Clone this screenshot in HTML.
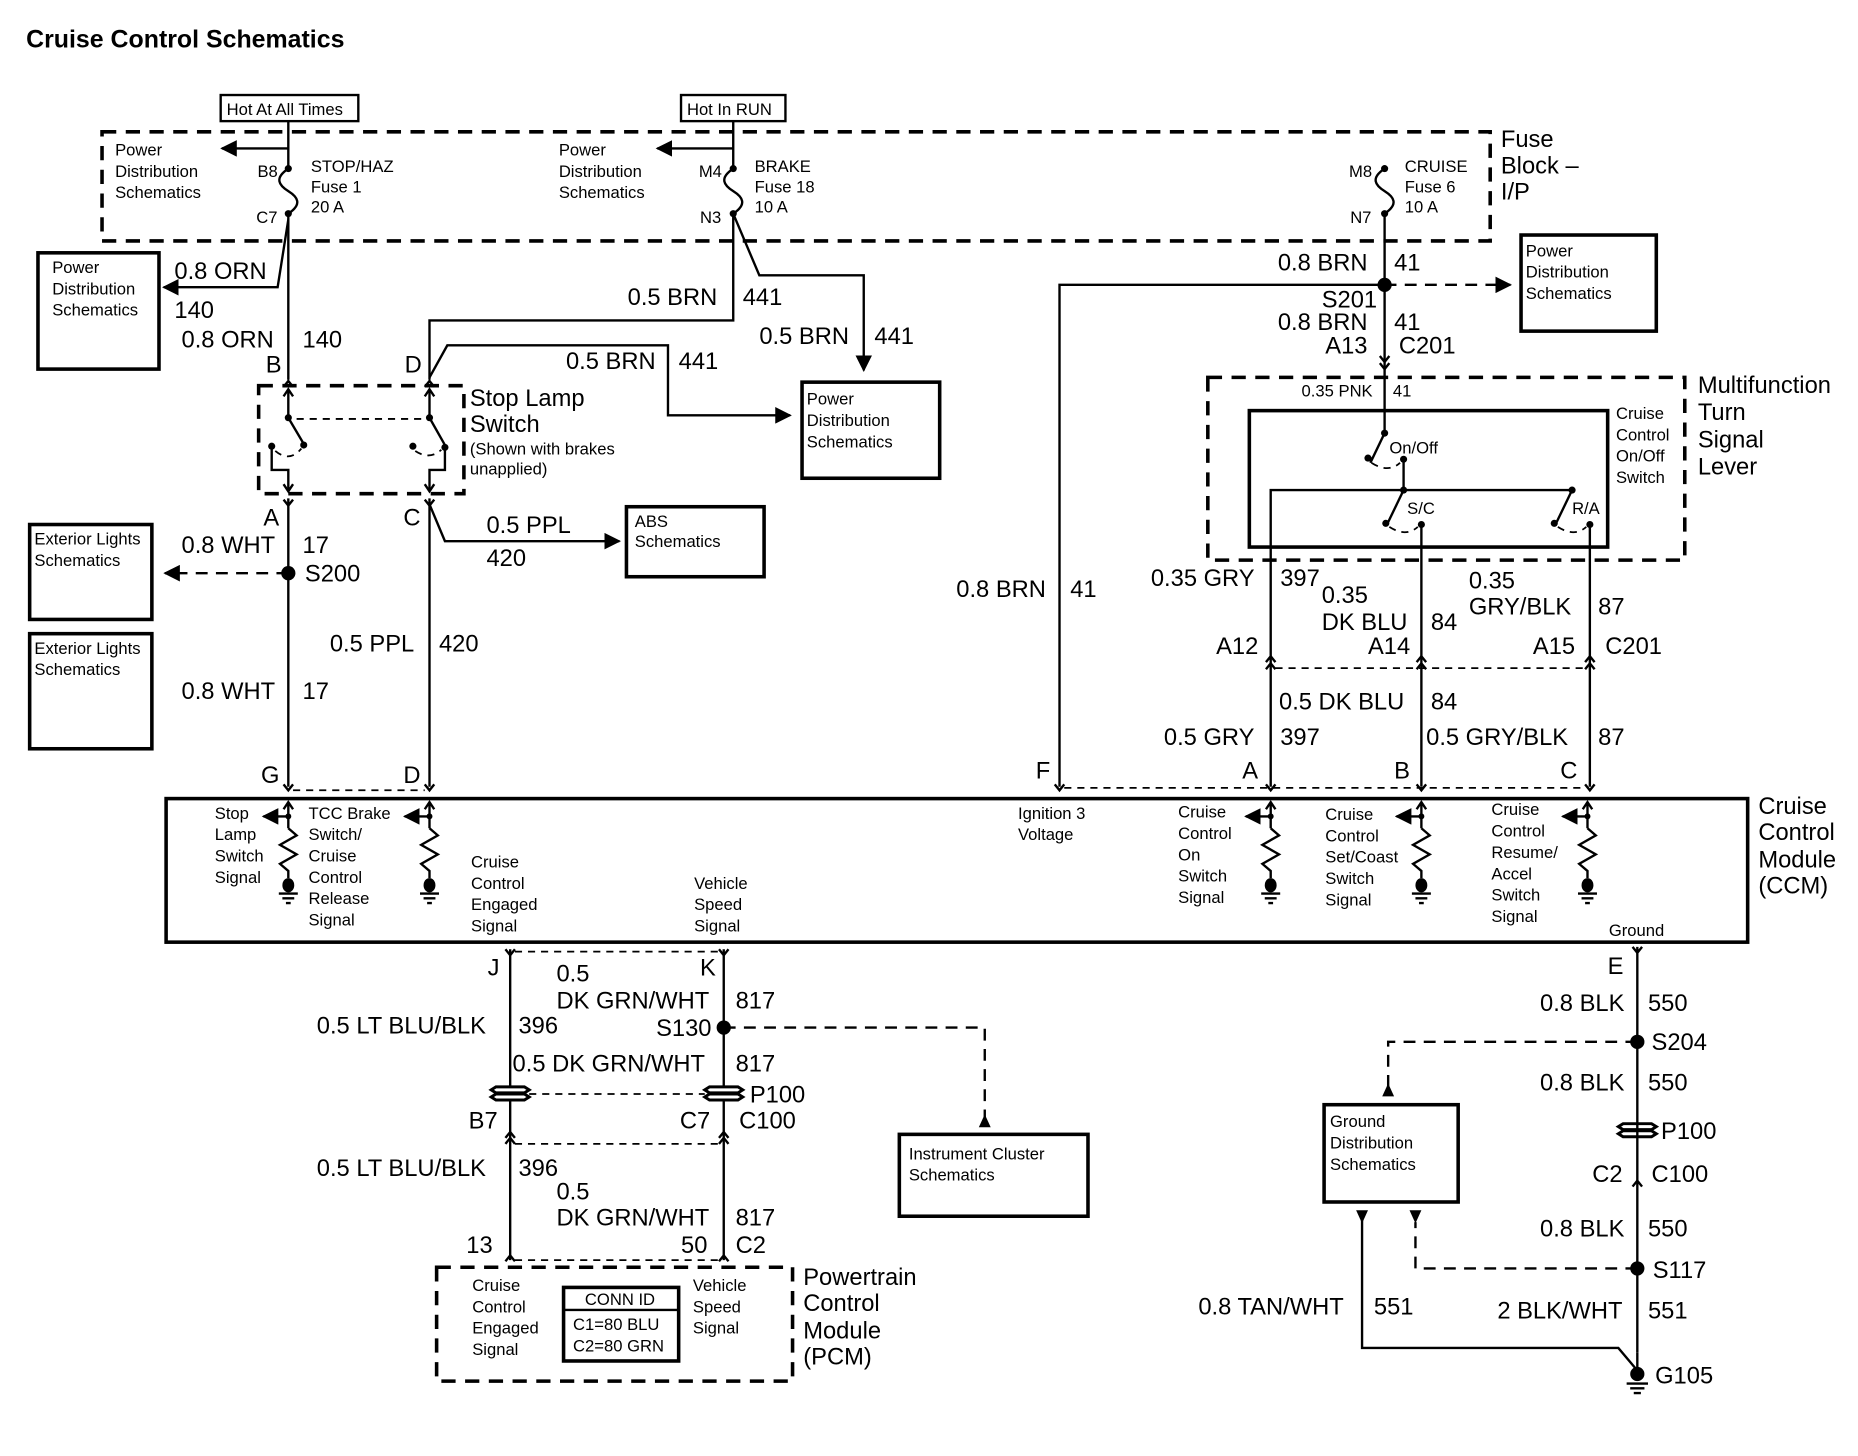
<!DOCTYPE html>
<html><head><meta charset="utf-8"><style>
html,body{margin:0;padding:0;background:#fff}
svg{display:block}
text{font-family:"Liberation Sans",Arial,sans-serif;fill:#000}
.s{font-size:14px}.m{font-size:20px}.t{font-size:21px;font-weight:bold}
.w{stroke:#000;stroke-width:2;fill:none}
.tk{stroke:#000;stroke-width:3;fill:none}
.d{stroke:#000;stroke-width:3;fill:none;stroke-dasharray:12 8}
.dt{stroke:#000;stroke-width:1.5;fill:none;stroke-dasharray:6 5}
</style></head><body>
<svg width="1858" height="1456" viewBox="0 0 1566 1227" xmlns="http://www.w3.org/2000/svg">
<defs>
<marker id="ar" viewBox="0 0 10 10" refX="9" refY="5" markerWidth="7" markerHeight="7" orient="auto"><path d="M0,0 L10,5 L0,10 z" fill="#000"/></marker>
</defs>
<text x="22" y="40" class="t">Cruise Control Schematics</text>

<rect x="186" y="80" width="116" height="22" class="w"/><text x="191" y="97" class="s">Hot At All Times</text>
<rect x="574" y="80" width="88" height="22" class="w"/><text x="579" y="97" class="s">Hot In RUN</text>
<line x1="243" y1="102" x2="243" y2="142" class="w"/>
<line x1="618" y1="102" x2="618" y2="142" class="w"/>
<rect x="86" y="111" width="1170" height="92" class="d"/>
<text x="1265" y="124" class="m">Fuse</text><text x="1265" y="146" class="m">Block –</text><text x="1265" y="168" class="m">I/P</text>
<text x="97" y="131" class="s">Power</text><text x="97" y="149" class="s">Distribution</text><text x="97" y="167" class="s">Schematics</text>
<line x1="243" y1="125" x2="187" y2="125" class="w" marker-end="url(#ar)"/>
<text x="471" y="131" class="s">Power</text><text x="471" y="149" class="s">Distribution</text><text x="471" y="167" class="s">Schematics</text>
<line x1="618" y1="125" x2="554" y2="125" class="w" marker-end="url(#ar)"/>
<g id="fuse">
<path d="M243,142 c-12,8 -8,14 0,19 c8,5 12,11 0,19" class="w"/>
<circle cx="243" cy="142" r="3"/><circle cx="243" cy="180" r="3"/>
</g>
<use href="#fuse" x="375"/>
<use href="#fuse" x="924"/>
<text x="217" y="149" class="s">B8</text><text x="216" y="188" class="s">C7</text>
<text x="262" y="145" class="s">STOP/HAZ</text><text x="262" y="162" class="s">Fuse 1</text><text x="262" y="179" class="s">20 A</text>
<text x="589" y="149" class="s">M4</text><text x="590" y="188" class="s">N3</text>
<text x="636" y="145" class="s">BRAKE</text><text x="636" y="162" class="s">Fuse 18</text><text x="636" y="179" class="s">10 A</text>
<text x="1137" y="149" class="s">M8</text><text x="1138" y="188" class="s">N7</text>
<text x="1184" y="145" class="s">CRUISE</text><text x="1184" y="162" class="s">Fuse 6</text><text x="1184" y="179" class="s">10 A</text>

<rect x="32" y="213" width="102" height="98" class="tk"/>
<text x="44" y="230" class="s">Power</text><text x="44" y="248" class="s">Distribution</text><text x="44" y="266" class="s">Schematics</text>
<polyline points="243,185 234,242 138,242" class="w" marker-end="url(#ar)"/>
<text x="147" y="235" class="m">0.8 ORN</text><text x="147" y="268" class="m">140</text>
<line x1="243" y1="180" x2="243" y2="320" class="w"/>
<text x="153" y="293" class="m">0.8 ORN</text><text x="255" y="293" class="m">140</text>
<text x="224" y="314" class="m">B</text>
<text x="341" y="314" class="m">D</text>
<polyline points="618,180 618,270 362,270 362,320" class="w"/>
<text x="529" y="257" class="m">0.5 BRN</text><text x="626" y="257" class="m">441</text>
<polyline points="618,180 640,232 728,232 728,312" class="w" marker-end="url(#ar)"/>
<text x="640" y="290" class="m">0.5 BRN</text><text x="737" y="290" class="m">441</text>
<polyline points="362,318 377,291 563,291 563,350 666,350" class="w" marker-end="url(#ar)"/>
<text x="477" y="311" class="m">0.5 BRN</text><text x="572" y="311" class="m">441</text>
<rect x="676" y="322" width="116" height="81" class="tk"/>
<text x="680" y="341" class="s">Power</text><text x="680" y="359" class="s">Distribution</text><text x="680" y="377" class="s">Schematics</text>
<path d="M239,326 l4,-5 l4,5 M358,326 l4,-5 l4,5" class="w"/>
<rect x="218" y="325" width="173" height="91" class="d"/>
<text x="396" y="342" class="m">Stop Lamp</text><text x="396" y="364" class="m">Switch</text>
<text x="396" y="383" class="s">(Shown with brakes</text><text x="396" y="400" class="s">unapplied)</text>
<g class="w">
<path d="M243,328 v24 M362,328 v24"/>
<path d="M243,352 L256,374 M362,352 L375,375"/>
<path d="M229,376 v20 h14 v18 M375,376 v20 h-13 v18"/>
</g>
<circle cx="243" cy="352" r="3"/><circle cx="256" cy="375" r="3"/><circle cx="229" cy="376" r="3"/>
<circle cx="362" cy="352" r="3"/><circle cx="375" cy="377" r="3"/><circle cx="348" cy="376" r="3"/>
<path d="M232,380 q12,10 22,-2 M350,380 q12,8 22,-1" class="dt"/>
<line x1="250" y1="353" x2="355" y2="353" class="dt"/>
<path d="M239,334 l4,-6 l4,6 M358,334 l4,-6 l4,6 M239,408 l4,6 l4,-6 M358,408 l4,6 l4,-6" class="w"/>
<path d="M239,421 l4,5 l4,-5 M358,421 l4,5 l4,-5" class="w"/>
<text x="222" y="443" class="m">A</text><text x="340" y="443" class="m">C</text>
<line x1="243" y1="420" x2="243" y2="663" class="w"/>
<circle cx="243" cy="483" r="6"/>
<line x1="243" y1="483" x2="139" y2="483" class="w" stroke-dasharray="10 7" marker-end="url(#ar)"/>
<text x="153" y="466" class="m">0.8 WHT</text><text x="255" y="466" class="m">17</text>
<text x="257" y="490" class="m">S200</text>
<text x="153" y="589" class="m">0.8 WHT</text><text x="255" y="589" class="m">17</text>
<rect x="25" y="442" width="103" height="80" class="tk"/>
<text x="29" y="459" class="s">Exterior Lights</text><text x="29" y="477" class="s">Schematics</text>
<rect x="25" y="534" width="103" height="97" class="tk"/>
<text x="29" y="551" class="s">Exterior Lights</text><text x="29" y="569" class="s">Schematics</text>
<line x1="362" y1="420" x2="362" y2="663" class="w"/>
<polyline points="362,425 375,456 522,456" class="w" marker-end="url(#ar)"/>
<text x="410" y="449" class="m">0.5 PPL</text><text x="410" y="477" class="m">420</text>
<rect x="528" y="427" width="116" height="59" class="tk"/>
<text x="535" y="444" class="s">ABS</text><text x="535" y="461" class="s">Schematics</text>
<text x="278" y="549" class="m">0.5 PPL</text><text x="370" y="549" class="m">420</text>
<text x="220" y="660" class="m">G</text><text x="340" y="660" class="m">D</text>
<path d="M239,661 l4,5 l4,-5 M358,661 l4,5 l4,-5" class="w"/>
<line x1="247" y1="666" x2="358" y2="666" class="dt"/>

<polyline points="893,663 893,240 1167,240" class="w"/>
<line x1="1167" y1="180" x2="1167" y2="365" class="w"/>
<circle cx="1167" cy="240" r="6"/>
<line x1="1167" y1="240" x2="1273" y2="240" class="w" stroke-dasharray="10 7" marker-end="url(#ar)"/>
<rect x="1282" y="198" width="114" height="81" class="tk"/>
<text x="1286" y="216" class="s">Power</text><text x="1286" y="234" class="s">Distribution</text><text x="1286" y="252" class="s">Schematics</text>
<text x="1077" y="228" class="m">0.8 BRN</text><text x="1175" y="228" class="m">41</text>
<text x="1114" y="259" class="m">S201</text>
<text x="1077" y="278" class="m">0.8 BRN</text><text x="1175" y="278" class="m">41</text>
<text x="1117" y="298" class="m">A13</text><text x="1179" y="298" class="m">C201</text>
<path d="M1163,300 l4,5 l4,-5 M1163,306 l4,5 l4,-5" class="w"/>
<text x="806" y="503" class="m">0.8 BRN</text><text x="902" y="503" class="m">41</text>
<rect x="1018" y="318" width="402" height="154" class="d"/>
<rect x="1053" y="346" width="302" height="115" class="tk"/>
<text x="1431" y="331" class="m">Multifunction</text><text x="1431" y="354" class="m">Turn</text><text x="1431" y="377" class="m">Signal</text><text x="1431" y="400" class="m">Lever</text>
<text x="1362" y="353" class="s">Cruise</text><text x="1362" y="371" class="s">Control</text><text x="1362" y="389" class="s">On/Off</text><text x="1362" y="407" class="s">Switch</text>
<text x="1097" y="334" class="s">0.35 PNK</text><text x="1174" y="334" class="s">41</text>
<g class="w">
<path d="M1167,365 L1155,390"/>
<path d="M1183,387 V413"/>
<path d="M1071,663 V413 H1325"/>
<path d="M1183,413 L1170,440"/>
<path d="M1325,413 L1312,440"/>
<path d="M1198,442 V663 M1340,442 V663"/>
</g>
<circle cx="1167" cy="365" r="3"/><circle cx="1153" cy="386" r="3"/><circle cx="1183" cy="387" r="3"/>
<circle cx="1183" cy="413" r="3"/><circle cx="1168" cy="441" r="3"/><circle cx="1198" cy="442" r="3"/>
<circle cx="1325" cy="413" r="3"/><circle cx="1310" cy="441" r="3"/><circle cx="1340" cy="442" r="3"/>
<path d="M1156,390 q14,9 24,0 M1171,444 q14,9 24,0 M1313,444 q14,9 24,0" class="dt"/>
<text x="1171" y="382" class="s">On/Off</text><text x="1186" y="433" class="s">S/C</text><text x="1325" y="433" class="s">R/A</text>
<text x="970" y="494" class="m">0.35 GRY</text><text x="1079" y="494" class="m">397</text>
<text x="1114" y="508" class="m">0.35</text><text x="1114" y="531" class="m">DK BLU</text><text x="1206" y="531" class="m">84</text>
<text x="1238" y="496" class="m">0.35</text><text x="1238" y="518" class="m">GRY/BLK</text><text x="1347" y="518" class="m">87</text>
<text x="1025" y="551" class="m">A12</text><text x="1153" y="551" class="m">A14</text><text x="1292" y="551" class="m">A15</text><text x="1353" y="551" class="m">C201</text>
<path d="M1067,558 l4,-5 l4,5 M1067,564 l4,-5 l4,5 M1194,558 l4,-5 l4,5 M1194,564 l4,-5 l4,5 M1336,558 l4,-5 l4,5 M1336,564 l4,-5 l4,5" class="w"/>
<line x1="1075" y1="563" x2="1336" y2="563" class="dt"/>
<text x="1078" y="598" class="m">0.5 DK BLU</text><text x="1206" y="598" class="m">84</text>
<text x="981" y="628" class="m">0.5 GRY</text><text x="1079" y="628" class="m">397</text>
<text x="1202" y="628" class="m">0.5 GRY/BLK</text><text x="1347" y="628" class="m">87</text>
<text x="873" y="656" class="m">F</text><text x="1047" y="656" class="m">A</text><text x="1175" y="656" class="m">B</text><text x="1315" y="656" class="m">C</text>
<path d="M889,661 l4,5 l4,-5 M1067,661 l4,5 l4,-5 M1194,661 l4,5 l4,-5 M1336,661 l4,5 l4,-5" class="w"/>
<line x1="897" y1="664" x2="1336" y2="664" class="dt"/>

<rect x="140" y="673" width="1333" height="121" class="tk"/>
<text x="1482" y="686" class="m">Cruise</text><text x="1482" y="708" class="m">Control</text><text x="1482" y="731" class="m">Module</text><text x="1482" y="753" class="m">(CCM)</text>
<g id="res">
<path d="M243,698 V676 M239,682 l4,-6 l4,6" class="w"/>
<line x1="243" y1="688" x2="222" y2="688" class="w" marker-end="url(#ar)"/>
<circle cx="243" cy="688" r="2.5"/>
<path d="M243,698 l7,6 l-14,8 l14,8 l-14,8 l7,6 v6" class="w"/>
<ellipse cx="243" cy="746" rx="5" ry="6"/>
<path d="M235,753 h16 M238,757 h10 M241,761 h4" class="w" stroke-width="1.5"/>
</g>
<use href="#res" x="119"/>
<use href="#res" x="828"/>
<use href="#res" x="955"/>
<use href="#res" x="1095"/>
<text x="181" y="690" class="s">Stop</text><text x="181" y="708" class="s">Lamp</text><text x="181" y="726" class="s">Switch</text><text x="181" y="744" class="s">Signal</text>
<text x="260" y="690" class="s">TCC Brake</text><text x="260" y="708" class="s">Switch/</text><text x="260" y="726" class="s">Cruise</text><text x="260" y="744" class="s">Control</text><text x="260" y="762" class="s">Release</text><text x="260" y="780" class="s">Signal</text>
<text x="397" y="731" class="s">Cruise</text><text x="397" y="749" class="s">Control</text><text x="397" y="767" class="s">Engaged</text><text x="397" y="785" class="s">Signal</text>
<text x="585" y="749" class="s">Vehicle</text><text x="585" y="767" class="s">Speed</text><text x="585" y="785" class="s">Signal</text>
<text x="858" y="690" class="s">Ignition 3</text><text x="858" y="708" class="s">Voltage</text>
<text x="993" y="689" class="s">Cruise</text><text x="993" y="707" class="s">Control</text><text x="993" y="725" class="s">On</text><text x="993" y="743" class="s">Switch</text><text x="993" y="761" class="s">Signal</text>
<text x="1117" y="691" class="s">Cruise</text><text x="1117" y="709" class="s">Control</text><text x="1117" y="727" class="s">Set/Coast</text><text x="1117" y="745" class="s">Switch</text><text x="1117" y="763" class="s">Signal</text>
<text x="1257" y="687" class="s">Cruise</text><text x="1257" y="705" class="s">Control</text><text x="1257" y="723" class="s">Resume/</text><text x="1257" y="741" class="s">Accel</text><text x="1257" y="759" class="s">Switch</text><text x="1257" y="777" class="s">Signal</text>
<text x="1356" y="789" class="s">Ground</text>

<line x1="430" y1="800" x2="430" y2="1062" class="w"/>
<line x1="610" y1="800" x2="610" y2="1062" class="w"/>
<path d="M426,800 l4,5 l4,-5 M606,800 l4,5 l4,-5" class="w"/>
<line x1="434" y1="802" x2="606" y2="802" class="dt"/>
<text x="411" y="822" class="m">J</text><text x="590" y="822" class="m">K</text>
<text x="469" y="827" class="m">0.5</text><text x="469" y="850" class="m">DK GRN/WHT</text><text x="620" y="850" class="m">817</text>
<text x="267" y="871" class="m">0.5 LT BLU/BLK</text><text x="437" y="871" class="m">396</text>
<circle cx="610" cy="866" r="6"/><text x="553" y="873" class="m">S130</text>
<polyline points="610,866 830,866 830,944" class="w" stroke-dasharray="10 7"/>
<path d="M825,950 l5,-11 l5,11 z"/>
<rect x="758" y="956" width="159" height="69" class="tk"/>
<text x="766" y="977" class="s">Instrument Cluster</text><text x="766" y="995" class="s">Schematics</text>
<text x="432" y="903" class="m">0.5 DK GRN/WHT</text><text x="620" y="903" class="m">817</text>
<g id="p1">
<path d="M418,916 h24 l4,2.5 l-4,2.5 h-24 l-4,-2.5 z M418,922 h24 l4,2.5 l-4,2.5 h-24 l-4,-2.5 z" fill="#fff" stroke="#000" stroke-width="2.5"/>
</g>
<use href="#p1" x="180"/>
<use href="#p1" x="950" y="31"/>
<line x1="446" y1="922" x2="594" y2="922" class="dt"/>
<text x="632" y="929" class="m">P100</text>
<text x="395" y="951" class="m">B7</text><text x="573" y="951" class="m">C7</text><text x="623" y="951" class="m">C100</text>
<path d="M426,959 l4,-5 l4,5 M426,964 l4,-5 l4,5 M606,959 l4,-5 l4,5 M606,964 l4,-5 l4,5" class="w"/>
<line x1="434" y1="964" x2="606" y2="964" class="dt"/>
<text x="267" y="991" class="m">0.5 LT BLU/BLK</text><text x="437" y="991" class="m">396</text>
<text x="469" y="1011" class="m">0.5</text><text x="469" y="1033" class="m">DK GRN/WHT</text><text x="620" y="1033" class="m">817</text>
<text x="393" y="1056" class="m">13</text><text x="574" y="1056" class="m">50</text><text x="620" y="1056" class="m">C2</text>
<path d="M426,1063 l4,-5 l4,5 M606,1063 l4,-5 l4,5" class="w"/>
<line x1="434" y1="1062" x2="606" y2="1062" class="dt"/>
<rect x="368" y="1068" width="300" height="96" class="d"/>
<text x="398" y="1088" class="s">Cruise</text><text x="398" y="1106" class="s">Control</text><text x="398" y="1124" class="s">Engaged</text><text x="398" y="1142" class="s">Signal</text>
<rect x="475" y="1085" width="97" height="62" class="tk"/><line x1="475" y1="1104" x2="572" y2="1104" class="w"/>
<text x="493" y="1100" class="s">CONN ID</text><text x="483" y="1121" class="s">C1=80 BLU</text><text x="483" y="1139" class="s">C2=80 GRN</text>
<text x="584" y="1088" class="s">Vehicle</text><text x="584" y="1106" class="s">Speed</text><text x="584" y="1124" class="s">Signal</text>
<text x="677" y="1083" class="m">Powertrain</text><text x="677" y="1105" class="m">Control</text><text x="677" y="1128" class="m">Module</text><text x="677" y="1150" class="m">(PCM)</text>

<line x1="1380" y1="798" x2="1380" y2="1140" class="w"/>
<path d="M1376,798 l4,5 l4,-5" class="w"/>
<text x="1355" y="821" class="m">E</text>
<text x="1298" y="852" class="m">0.8 BLK</text><text x="1389" y="852" class="m">550</text>
<circle cx="1380" cy="878" r="6"/><text x="1392" y="885" class="m">S204</text>
<polyline points="1380,878 1170,878 1170,918" class="w" stroke-dasharray="10 7"/>
<path d="M1165,924 l5,-11 l5,11 z"/>
<text x="1298" y="919" class="m">0.8 BLK</text><text x="1389" y="919" class="m">550</text>
<text x="1400" y="960" class="m">P100</text>
<text x="1342" y="996" class="m">C2</text><text x="1392" y="996" class="m">C100</text>
<path d="M1376,1000 l4,-5 l4,5" class="w"/>
<rect x="1116" y="931" width="113" height="82" class="tk"/>
<text x="1121" y="950" class="s">Ground</text><text x="1121" y="968" class="s">Distribution</text><text x="1121" y="986" class="s">Schematics</text>
<text x="1298" y="1042" class="m">0.8 BLK</text><text x="1389" y="1042" class="m">550</text>
<circle cx="1380" cy="1069" r="6"/><text x="1393" y="1077" class="m">S117</text>
<polyline points="1380,1069 1193,1069 1193,1030" class="w" stroke-dasharray="10 7"/>
<path d="M1188,1020 h10 l-5,11 z"/>
<path d="M1143,1020 h10 l-5,11 z"/>
<polyline points="1148,1028 1148,1136 1364,1136 1380,1155" class="w"/>
<line x1="1380" y1="1140" x2="1380" y2="1156" class="w"/>
<text x="1010" y="1108" class="m">0.8 TAN/WHT</text><text x="1158" y="1108" class="m">551</text>
<text x="1262" y="1111" class="m">2 BLK/WHT</text><text x="1389" y="1111" class="m">551</text>
<circle cx="1380" cy="1158" r="6"/>
<path d="M1371,1166 h18 M1374,1170 h12 M1377,1174 h6" class="w" stroke-width="1.5"/>
<text x="1395" y="1166" class="m">G105</text>
</svg>
</body></html>
